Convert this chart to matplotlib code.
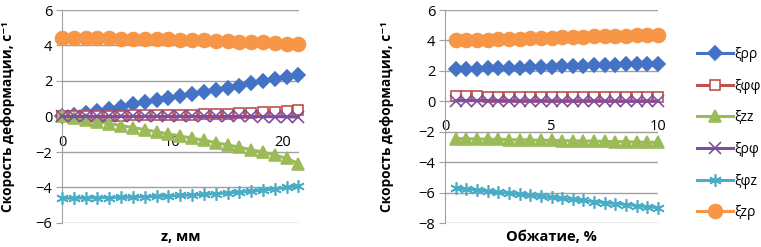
import matplotlib
matplotlib.use("Agg")
import matplotlib.pyplot as plt
import numpy as np

plt.rcParams['font.family'] = ['Open Sans', 'DejaVu Sans']

# ---- left chart: along z ----
z = [0, 1.07, 2.14, 3.21, 4.28, 5.35, 6.42, 7.49, 8.56, 9.63, 10.7,
     11.77, 12.84, 13.91, 14.98, 16.05, 17.12, 18.19, 19.26, 20.33, 21.4]
rr_z = [0.0, 0.1, 0.2, 0.33, 0.45, 0.56, 0.68, 0.8, 0.91, 1.03, 1.15,
        1.26, 1.38, 1.5, 1.62, 1.74, 1.86, 1.98, 2.1, 2.22, 2.35]
ff_z = [0.0, 0.01, 0.02, 0.03, 0.04, 0.05, 0.06, 0.07, 0.08, 0.09, 0.1,
        0.11, 0.13, 0.14, 0.16, 0.18, 0.2, 0.23, 0.26, 0.3, 0.35]
zz_z = [0.0, -0.09, -0.19, -0.29, -0.4, -0.51, -0.62, -0.74, -0.86, -0.98, -1.1,
        -1.22, -1.34, -1.47, -1.6, -1.73, -1.87, -2.01, -2.17, -2.36, -2.65]
rf_z = [0.0, 0.0, 0.0, 0.0, 0.0, 0.0, 0.0, 0.0, 0.0, 0.0, 0.0,
        0.0, 0.0, 0.0, 0.0, 0.0, 0.0, -0.01, -0.01, -0.02, -0.03]
fz_z = [-4.6, -4.6, -4.59, -4.58, -4.57, -4.56, -4.54, -4.52, -4.5, -4.48, -4.45,
        -4.42, -4.39, -4.35, -4.31, -4.26, -4.21, -4.15, -4.08, -4.0, -3.92]
zr_z = [4.42, 4.42, 4.41, 4.41, 4.4, 4.39, 4.38, 4.37, 4.36, 4.34, 4.33,
        4.31, 4.29, 4.27, 4.25, 4.22, 4.2, 4.17, 4.14, 4.1, 4.06]

# ---- right chart: vs reduction ----
obj = [0.5, 1.0, 1.5, 2.0, 2.5, 3.0, 3.5, 4.0, 4.5, 5.0,
       5.5, 6.0, 6.5, 7.0, 7.5, 8.0, 8.5, 9.0, 9.5, 10.0]
rr_o = [2.1, 2.12, 2.14, 2.16, 2.18, 2.2, 2.22, 2.24, 2.26, 2.28,
        2.3, 2.32, 2.34, 2.36, 2.38, 2.4, 2.42, 2.44, 2.46, 2.48]
ff_o = [0.32, 0.32, 0.32, 0.31, 0.31, 0.31, 0.31, 0.31, 0.3, 0.3,
        0.3, 0.3, 0.3, 0.29, 0.29, 0.29, 0.29, 0.29, 0.28, 0.28]
zz_o = [-2.45, -2.46, -2.48, -2.49, -2.5, -2.52, -2.53, -2.54, -2.56, -2.57,
        -2.58, -2.6, -2.61, -2.62, -2.64, -2.65, -2.66, -2.68, -2.69, -2.7]
rf_o = [0.05, 0.05, 0.05, 0.05, 0.05, 0.04, 0.04, 0.04, 0.04, 0.04,
        0.03, 0.03, 0.03, 0.03, 0.03, 0.02, 0.02, 0.02, 0.02, 0.02]
fz_o = [-5.7, -5.77, -5.84, -5.91, -5.98, -6.04, -6.11, -6.18, -6.25, -6.32,
        -6.38, -6.45, -6.52, -6.59, -6.66, -6.72, -6.79, -6.86, -6.93, -7.0]
zr_o = [4.0, 4.02, 4.04, 4.06, 4.08, 4.1, 4.12, 4.14, 4.16, 4.18,
        4.2, 4.22, 4.24, 4.26, 4.28, 4.3, 4.32, 4.34, 4.36, 4.38]

labels = ['ξρρ', 'ξφφ', 'ξzz', 'ξρφ', 'ξφz', 'ξzρ']
colors = ['#4472C4', '#C0504D', '#9BBB59', '#7F4F9F', '#4BACC6', '#F79646']
markers = ['D', 's', '^', 'x', (6, 2, 0), 'o']
msizes = [7.5, 7.5, 9, 8, 9, 10]
mfaces = ['#4472C4', 'white', '#9BBB59', 'none', 'none', '#F79646']

fig = plt.figure(figsize=(7.61, 2.47), dpi=100)
ax1 = fig.add_axes([62/761, 24/247, 237/761, 213/247])
ax2 = fig.add_axes([445/761, 24/247, 213/761, 213/247])

left_series = [rr_z, ff_z, zz_z, rf_z, fz_z, zr_z]
right_series = [rr_o, ff_o, zz_o, rf_o, fz_o, zr_o]

handles = []
for i in range(6):
    h, = ax1.plot(z, left_series[i], color=colors[i], lw=2.2, marker=markers[i],
                  ms=msizes[i], mfc=mfaces[i], mec=colors[i], mew=1.2,
                  label=labels[i], clip_on=False, zorder=3)
    ax2.plot(obj, right_series[i], color=colors[i], lw=2.2, marker=markers[i],
             ms=msizes[i], mfc=mfaces[i], mec=colors[i], mew=1.2,
             clip_on=False, zorder=3)
    handles.append(h)

gray = '#A0A0A0'
for ax, ylo, xmax, xt, xl in [(ax1, -6, 21.45, [0, 10, 20], 'z, мм'),
                              (ax2, -8, 10, [0, 5, 10], 'Обжатие, %')]:
    ax.set_ylim(ylo, 6)
    ax.set_xlim(0, xmax)
    ax.set_yticks(np.arange(ylo, 7, 2))
    ax.set_xticks(xt)
    ax.grid(axis='y', color=gray, lw=1)
    ax.set_axisbelow(True)
    for s in ['top', 'right']:
        ax.spines[s].set_visible(False)
    ax.spines['left'].set_color(gray)
    ax.spines['bottom'].set_position(('data', 0))
    ax.spines['bottom'].set_color(gray)
    ax.tick_params(axis='y', length=4, color=gray, labelsize=10.5, pad=3)
    ax.tick_params(axis='x', length=0, labelsize=10.5, pad=13)
    ax.set_xlabel(xl, fontsize=10.5, fontweight='bold')
    ax.xaxis.set_label_coords(0.5, -0.035)
    ax.set_ylabel('Скорость деформации, с⁻¹', fontsize=9.8, fontweight='bold')

ax1.yaxis.set_label_coords(-0.2, 0.5)
ax2.yaxis.set_label_coords(-0.24, 0.5)

fig.legend(handles=handles, loc='upper left', bbox_to_anchor=(690/761, 1 - 40/247),
           frameon=False, fontsize=10, handlelength=2.6, handletextpad=0.1,
           labelspacing=1.2, borderpad=0)

fig.savefig('out.png', dpi=100)
